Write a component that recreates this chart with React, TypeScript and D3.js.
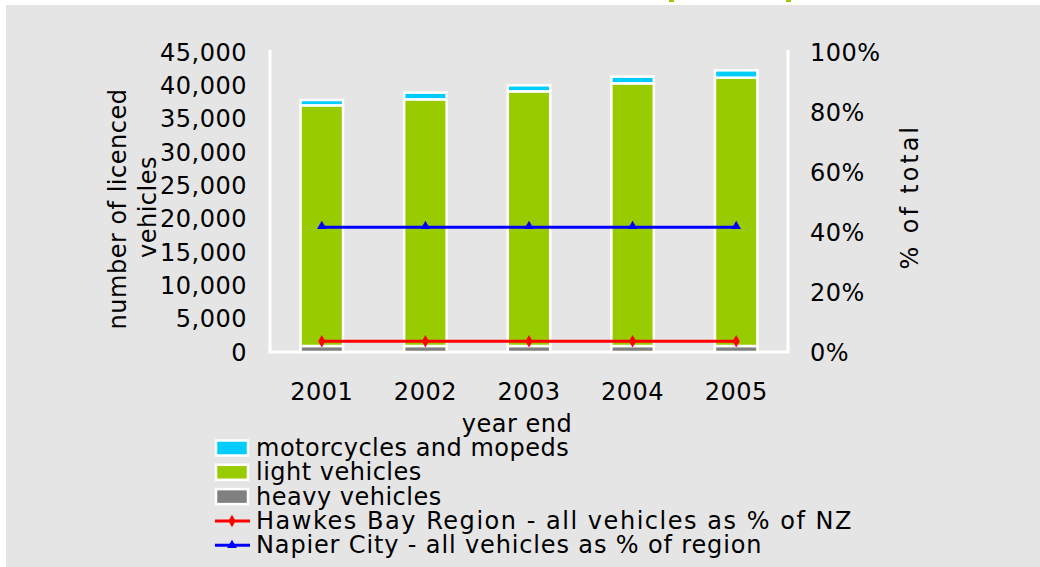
import * as d3 from "d3";

const years = ["2001", "2002", "2003", "2004", "2005"];
const heavy = [900, 900, 900, 900, 900];
const light = [36100, 37000, 38200, 39400, 40250];
const moto = [800, 1000, 900, 1000, 1100];
const hawkesPct = [3.6, 3.6, 3.6, 3.6, 3.6];
const napierPct = [41.6, 41.6, 41.6, 41.6, 41.6];
const leftTicks = [0, 5000, 10000, 15000, 20000, 25000, 30000, 35000, 40000, 45000];
const rightTicks = [0, 20, 40, 60, 80, 100];

const W = 1040, H = 567;
const FONT = "DejaVu Sans, Verdana, sans-serif";
const FS = 24;
const LS = 0.5;

export default function App() {
  const x = d3.scaleBand().domain(years).range([270, 788]);
  const y = d3.scaleLinear().domain([0, 45000]).range([352, 52]);
  const y2 = d3.scaleLinear().domain([0, 100]).range([352, 52]);
  const fmt = d3.format(",");
  const barW = x.bandwidth() * 0.41;

  const segs = years.map((yr, i) => {
    const a = heavy[i], b = a + light[i], c = b + moto[i];
    return [
      { y0: 0, y1: a, fill: "#808080" },
      { y0: a, y1: b, fill: "#99cc00" },
      { y0: b, y1: c, fill: "#00ccff" },
    ].map((s) => ({ ...s, yr }));
  });

  const cx = (yr: string) => (x(yr) as number) + x.bandwidth() / 2;
  const line = (vals: number[]) =>
    d3.line<number>().x((_, i) => cx(years[i])).y((v) => y2(v))(vals) as string;

  const diamond = d3.symbol().type(d3.symbolDiamond).size(45)() as string;
  const tri = d3.symbol().type(d3.symbolTriangle).size(40)() as string;

  // widths of the wider legend labels (the original font is a bit wider)
  const legend = [
    { kind: "box", color: "#00ccff", label: "motorcycles and mopeds", len: 0 },
    { kind: "box", color: "#99cc00", label: "light vehicles", len: 0 },
    { kind: "box", color: "#808080", label: "heavy vehicles", len: 0 },
    { kind: "line", color: "#ff0000", label: "Hawkes Bay Region - all vehicles as % of NZ", mark: diamond, len: 596 },
    { kind: "line", color: "#0000ff", label: "Napier City - all vehicles as % of region", mark: tri, len: 506 },
  ];

  return (
    <svg width={W} height={H} style={{ position: "absolute", left: 0, top: 0 }}
      fontFamily={FONT} fontSize={FS} letterSpacing={LS} fill="#000">
      <rect width={W} height={H} fill="#ffffff" />
      <rect x={6} y={5} width={W - 6} height={H - 5} fill="#e5e5e5" />
      <rect x={669} y={0} width={5} height={2} fill="#99cc00" />
      <rect x={786} y={0} width={5} height={2} fill="#99cc00" />

      {/* plot frame */}
      <path d={`M270,50V352H788V50`} fill="none" stroke="#ffffff" strokeWidth={3} />

      {/* bars */}
      {segs.map((s, i) => (
        <g key={i}>
          {s.map((d, j) => (
            <rect
              key={j}
              x={cx(d.yr) - barW / 2}
              y={y(d.y1)}
              width={barW}
              height={y(d.y0) - y(d.y1)}
              fill={d.fill}
              stroke="#ffffff"
              strokeWidth={2.5}
            />
          ))}
        </g>
      ))}

      {/* lines */}
      <path d={line(hawkesPct)} fill="none" stroke="#ff0000" strokeWidth={3} />
      {hawkesPct.map((v, i) => (
        <path key={i} d={diamond} transform={`translate(${cx(years[i])},${y2(v)})`} fill="#ff0000" />
      ))}
      <path d={line(napierPct)} fill="none" stroke="#0000ff" strokeWidth={3} />
      {napierPct.map((v, i) => (
        <path key={i} d={tri} transform={`translate(${cx(years[i])},${y2(v) - 1})`} fill="#0000ff" />
      ))}

      {/* left axis */}
      {leftTicks.map((t) => (
        <text key={t} x={247} y={y(t)} dy="0.36em" textAnchor="end">
          {fmt(t)}
        </text>
      ))}
      {/* right axis */}
      {rightTicks.map((t) => (
        <text key={t} x={810} y={y2(t)} dy="0.36em" textAnchor="start">
          {t + "%"}
        </text>
      ))}
      {/* x axis */}
      {years.map((yr) => (
        <text key={yr} x={cx(yr)} y={400} textAnchor="middle">
          {yr}
        </text>
      ))}
      <text x={517} y={432} textAnchor="middle">year end</text>
      <text transform="translate(126,209) rotate(-90)" textAnchor="middle">
        number of licenced
      </text>
      <text transform="translate(156,207) rotate(-90)" textAnchor="middle">
        vehicles
      </text>
      <text transform="translate(918,198) rotate(-90)" textAnchor="middle" textLength={143} lengthAdjust="spacing">
        % of total
      </text>

      {/* legend */}
      {legend.map((l, i) => {
        const base = 456 + i * 24.3;
        const my = base - 8;
        return (
          <g key={i}>
            {l.kind === "box" ? (
              <rect x={216} y={my - 7.5} width={32} height={15} fill={l.color} stroke="#ffffff" strokeWidth={2.5} />
            ) : (
              <g>
                <line x1={215} x2={250} y1={my} y2={my} stroke={l.color} strokeWidth={3} />
                <path d={l.mark} transform={`translate(232,${my})`} fill={l.color} />
              </g>
            )}
            {l.len ? (
              <text x={256} y={base} textLength={l.len} lengthAdjust="spacing">{l.label}</text>
            ) : (
              <text x={256} y={base}>{l.label}</text>
            )}
          </g>
        );
      })}
    </svg>
  );
}
